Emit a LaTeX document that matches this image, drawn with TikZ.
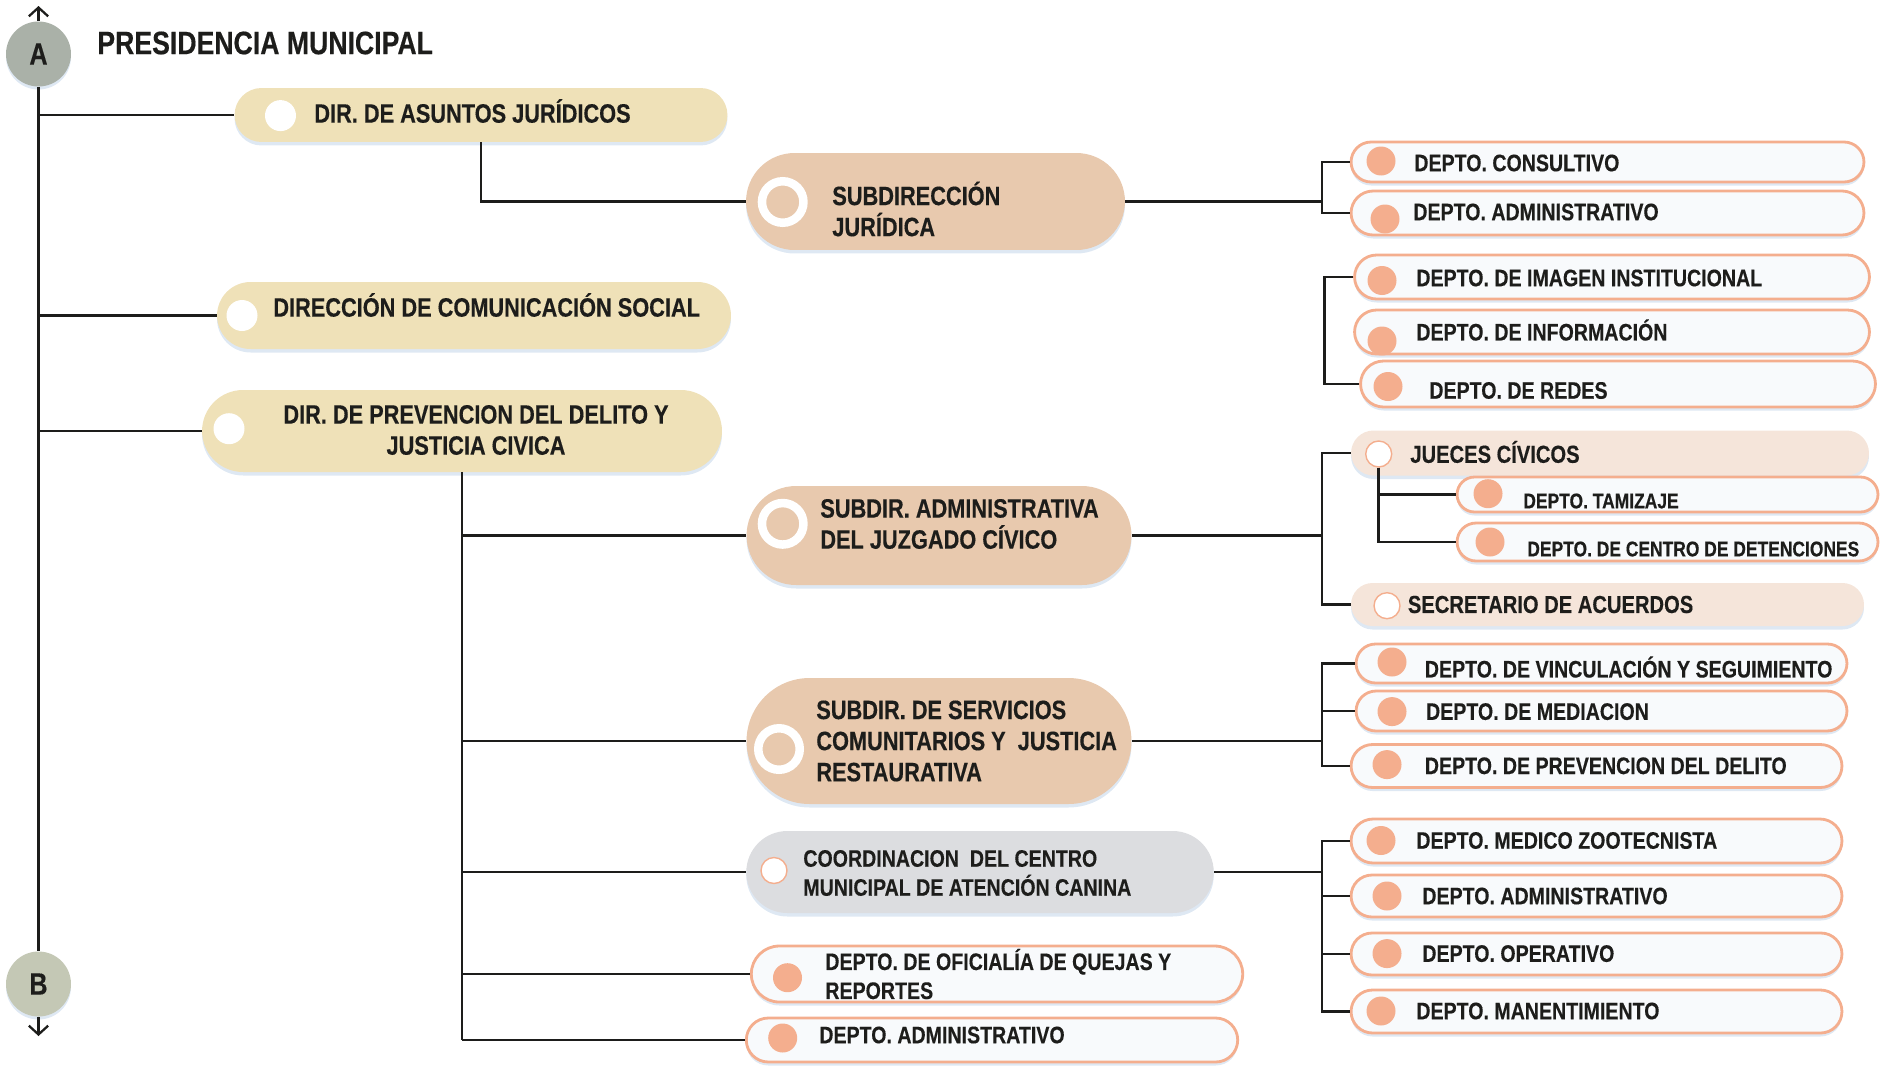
\documentclass[tikz,border=0pt]{standalone}
\usepackage{fontspec}
\newfontfamily\orgfont{Liberation Sans}[FakeStretch=0.82,BoldFeatures={FakeBold=0.35}]
\usetikzlibrary{positioning,arrows,arrows.meta,shapes.misc,shadows}
\definecolor{colortext}  {RGB}{29 ,29 ,27 }
\definecolor{colordir}   {RGB}{239,225,184}
\definecolor{colorsub}   {RGB}{232,201,174}
\definecolor{colordept}  {RGB}{248,250,252}
\definecolor{colorsalmon}{RGB}{244,174,142}
\definecolor{colorsoft}  {RGB}{245,229,218}
\definecolor{colorcanina}{RGB}{220,221,224}
\definecolor{colora}     {RGB}{170,177,168}
\definecolor{colorb}     {RGB}{196,200,181}
\definecolor{colorshadow}{RGB}{214,226,240}
\begin{document}
\begin{tikzpicture}[
    x=0.02cm, y=-0.02cm,
    >={Straight Barb[length=5pt,width=11pt,line width=1.3pt]},
    link/.style={draw=colortext,line width=1.5pt},
    txt/.style={text=colortext,anchor=west,align=left,inner sep=0pt,font={\orgfont\bfseries\fontsize{13.6}{16.5}\selectfont}},
    bigtxt/.style={txt,font={\orgfont\bfseries\fontsize{15.1}{17.7}\selectfont}},
    smalltxt/.style={txt,font={\orgfont\bfseries\fontsize{12.1}{14}\selectfont}},
    pill/.style={rounded rectangle,inner sep=0pt,drop shadow={shadow xshift=0pt,shadow yshift=-0.07cm,fill=colorshadow,opacity=0.8}},
    dirpill/.style={pill,fill=colordir},
    subpill/.style={pill,fill=colorsub},
    softpill/.style={pill,fill=colorsoft},
    deptpill/.style={pill,fill=colordept,draw=colorsalmon,line width=1.6pt},
    letter/.style={circle,minimum size=1.3cm,inner sep=0pt,text=colortext,font={\orgfont\bfseries\fontsize{17.5}{20}\selectfont},drop shadow={shadow xshift=0pt,shadow yshift=-0.06cm,fill=colorshadow,opacity=0.8}},
    dot/.style={circle,fill=colorsalmon,minimum size=0.58cm,inner sep=0pt},
    hole/.style={circle,fill=white,minimum size=0.62cm,inner sep=0pt},
    pin/.style={circle,fill=white,draw=colorsalmon,line width=0.8pt,minimum size=0.52cm,inner sep=0pt},
    ring/.style={circle,fill=colorsub,draw=white,line width=0.17cm,minimum size=0.83cm,inner sep=0pt},
]

    \useasboundingbox (0,0) rectangle (1888,1065);

    % Letters and title
    \node[letter,fill=colora] (A) at (38.5,54)  {A};
    \node[letter,fill=colorb] (B) at (38.5,984) {B};
    \coordinate (topend) at (38.5,6);
    \coordinate (botend) at (38.5,1036);
    \node[txt,font={\orgfont\bfseries\fontsize{18.5}{22}\selectfont}] (title) at (97,43) {PRESIDENCIA MUNICIPAL};

    % Directions
    \node[dirpill,minimum width=9.86cm,minimum height=1.08cm]  (asuntos) at (481,115)   {};
    \node[dirpill,minimum width=10.28cm,minimum height=1.34cm] (comsoc)  at (474,315.5) {};
    \node[dirpill,minimum width=10.4cm,minimum height=1.64cm]  (prev)    at (462,431)   {};
    \node[hole] (asuntosdot) at (280.5,115.6) {};
    \node[hole] (comsocdot)  at (242,315.5)   {};
    \node[hole] (prevdot)    at (229,428.7)   {};
    \node[bigtxt] (asuntostxt) at (314,111) {DIR. DE ASUNTOS JURÍDICOS};
    \node[bigtxt] (comsoctxt)  at (273,305) {DIRECCIÓN DE COMUNICACIÓN SOCIAL};
    \node[bigtxt,anchor=center,align=center] (prevtxt) at (476,430) {DIR. DE PREVENCION DEL DELITO Y\\JUSTICIA CIVICA};

    % Subdirections
    \node[subpill,minimum width=7.58cm,minimum height=1.94cm] (subjur)    at (935.5,201.5) {};
    \node[subpill,minimum width=7.7cm,minimum height=1.98cm]  (subadm)    at (939,535.5)   {};
    \node[subpill,minimum width=7.7cm,minimum height=2.52cm]  (servicios) at (939,741)     {};
    \node[pill,fill=colorcanina,minimum width=9.35cm,minimum height=1.64cm] (canina) at (980,872) {};
    \node[ring] (subjurdot)    at (782.7,202)   {};
    \node[ring] (subadmdot)    at (782.7,523.8) {};
    \node[ring] (serviciosdot) at (779,749)     {};
    \node[pin]  (caninadot)    at (774,870.5)   {};
    \node[bigtxt] (subjurtxt)    at (832,209)   {SUBDIRECCIÓN\\JURÍDICA};
    \node[bigtxt] (subadmtxt)    at (820,524) {SUBDIR. ADMINISTRATIVA\\DEL JUZGADO CÍVICO};
    \node[bigtxt] (servicipstxt) at (816,741)   {SUBDIR. DE SERVICIOS\\COMUNITARIOS Y\ \ JUSTICIA\\RESTAURATIVA};
    \node[txt,font={\orgfont\bfseries\fontsize{13.6}{16.5}\selectfont}] (caninatxt) at (803,873) {COORDINACION\ \ DEL CENTRO\\MUNICIPAL DE ATENCIÓN CANINA};

    % Departments under the prevention direction
    \node[deptpill,minimum width=9.83cm,minimum height=1.12cm] (quejas) at (997,974)  {};
    \node[deptpill,minimum width=9.83cm,minimum height=0.88cm] (adminD) at (992,1040) {};
    \node[dot] (quejasdot) at (787.5,977.7) {};
    \node[dot] (adminDdot) at (782.7,1038)  {};
    \node[txt] (quejastxt) at (825,974)  {DEPTO. DE OFICIALÍA DE QUEJAS Y\\REPORTES};
    \node[txt] (adminDtxt) at (819,1035) {DEPTO. ADMINISTRATIVO};

    % Departments, right column
    \node[deptpill,minimum width=10.26cm,minimum height=0.8cm]  (consultivo)  at (1607.5,162) {};
    \node[deptpill,minimum width=10.26cm,minimum height=0.88cm] (adminA)      at (1607.5,213) {};
    \node[deptpill,minimum width=10.3cm,minimum height=0.88cm]  (imagen)      at (1612,277)   {};
    \node[deptpill,minimum width=10.3cm,minimum height=0.88cm]  (informacion) at (1612,332)   {};
    \node[deptpill,minimum width=10.3cm,minimum height=0.92cm]  (redes)       at (1618,384)   {};
    \node[dot] (consultivodot)  at (1381,161)   {};
    \node[dot] (adminAdot)      at (1385,219)   {};
    \node[dot] (imagendot)      at (1382,280.5) {};
    \node[dot] (informaciondot) at (1382,341)   {};
    \node[dot] (redesdot)       at (1388,386.5) {};
    \node[txt] (consultivotxt)  at (1414,163)   {DEPTO. CONSULTIVO};
    \node[txt] (adminAtxt)      at (1413,212)   {DEPTO. ADMINISTRATIVO};
    \node[txt] (imagentxt)      at (1416,278)   {DEPTO. DE IMAGEN INSTITUCIONAL};
    \node[txt] (informaciontxt) at (1416,330)   {DEPTO. DE INFORMACIÓN};
    \node[txt] (redestxt)       at (1429,390.5) {DEPTO. DE REDES};

    % Civic judges
    \node[softpill,minimum width=10.36cm,minimum height=0.9cm]  (jueces)      at (1610,453)    {};
    \node[deptpill,minimum width=8.42cm,minimum height=0.7cm]   (tamizaje)    at (1667.5,494.5) {};
    \node[deptpill,minimum width=8.42cm,minimum height=0.76cm]  (detenciones) at (1667.5,542)  {};
    \node[softpill,minimum width=10.26cm,minimum height=0.86cm] (secretario)  at (1607.5,604.5) {};
    \node[pin] (juecesdot)      at (1378.7,454)  {};
    \node[dot] (tamizajedot)    at (1488,493.7)  {};
    \node[dot] (detencionesdot) at (1490,542)    {};
    \node[pin] (secretariodot)  at (1387,605.7)  {};
    \node[bigtxt,font={\orgfont\bfseries\fontsize{14}{17}\selectfont}] (juecestxt) at (1410,452) {JUECES CÍVICOS};
    \node[smalltxt] (tamizajetxt)    at (1523,501) {DEPTO. TAMIZAJE};
    \node[smalltxt] (detencionestxt) at (1527,549) {DEPTO. DE CENTRO DE DETENCIONES};
    \node[bigtxt,font={\orgfont\bfseries\fontsize{14}{17}\selectfont}] (secretariotxt) at (1407.5,604.5) {SECRETARIO DE ACUERDOS};

    % Community services
    \node[deptpill,minimum width=9.82cm,minimum height=0.78cm] (vinculacion) at (1601.5,663.5) {};
    \node[deptpill,minimum width=9.82cm,minimum height=0.8cm]  (mediacion)   at (1601.5,711)   {};
    \node[deptpill,minimum width=9.82cm,minimum height=0.86cm] (prevdel)     at (1596.5,766)   {};
    \node[dot] (vinculaciondot) at (1392,662)   {};
    \node[dot] (mediaciondot)   at (1392,711.6) {};
    \node[dot] (prevdeldot)     at (1387,764.6) {};
    \node[txt] (vinculaciontxt) at (1424.5,667) {DEPTO. DE VINCULACIÓN Y SEGUIMIENTO};
    \node[txt] (mediaciontxt)   at (1425.7,711.6) {DEPTO. DE MEDIACION};
    \node[txt] (prevdeltxt)     at (1424.5,765.8) {DEPTO. DE PREVENCION DEL DELITO};

    % Canine center
    \node[deptpill,minimum width=9.82cm,minimum height=0.88cm] (zootec)    at (1596.5,841)    {};
    \node[deptpill,minimum width=9.82cm,minimum height=0.84cm] (adminC)    at (1596.5,896)    {};
    \node[deptpill,minimum width=9.82cm,minimum height=0.84cm] (operativo) at (1596.5,954)    {};
    \node[deptpill,minimum width=9.82cm,minimum height=0.86cm] (mante)     at (1596.5,1011.5) {};
    \node[dot] (zootecdot)    at (1381,840.5) {};
    \node[dot] (adminCdot)    at (1387,896)   {};
    \node[dot] (operativodot) at (1387,953.6) {};
    \node[dot] (mantedot)     at (1381,1011)  {};
    \node[txt] (zootectxt)    at (1416,840.5) {DEPTO. MEDICO ZOOTECNISTA};
    \node[txt] (adminCtxt)    at (1422,896)   {DEPTO. ADMINISTRATIVO};
    \node[txt] (operativotxt) at (1422,953.6) {DEPTO. OPERATIVO};
    \node[txt] (mantetxt)     at (1416,1011)  {DEPTO. MANENTIMIENTO};

    % Main line
    \draw[link,->] (A) -- (topend);
    \draw[link] (A) -- (B);
    \draw[link,->] (B) -- (botend);
    \draw[link] (A |- asuntos.west) -- (asuntos.west);
    \draw[link] (A |- comsoc.west) -- (comsoc.west);
    \draw[link] (A |- prev.west) -- (prev.west);

    % Legal branch
    \coordinate (bus1) at (1322,201.5);
    \draw[link] (asuntos.south) |- (subjur.west);
    \draw[link] (subjur.east) -- (bus1);
    \draw[link] (consultivo.west) -| (bus1) |- (adminA.west);

    % Communication bracket
    \coordinate (bus2) at (1324.5,330);
    \draw[link] (imagen.west) -| (bus2) |- (redes.west);

    % Prevention branch
    \draw[link] (prev.south) -- (prev.south |- adminD.west);
    \draw[link] (prev.south |- subadm.west) -- (subadm.west);
    \draw[link] (prev.south |- servicios.west) -- (servicios.west);
    \draw[link] (prev.south |- canina.west) -- (canina.west);
    \draw[link] (prev.south |- quejas.west) -- (quejas.west);
    \draw[link] (prev.south |- adminD.west) -- (adminD.west);

    % Civic court
    \coordinate (bus3) at (1322,535.5);
    \draw[link] (subadm.east) -- (bus3);
    \draw[link] (jueces.west) -| (bus3) |- (secretario.west);
    \draw[link] (juecesdot.south) |- (tamizaje.west);
    \draw[link] (juecesdot.south) |- (detenciones.west);

    % Community services
    \coordinate (bus4) at (1322,741);
    \draw[link] (servicios.east) -- (bus4);
    \draw[link] (vinculacion.west) -| (bus4) |- (prevdel.west);
    \draw[link] (bus4 |- mediacion.west) -- (mediacion.west);

    % Canine center
    \coordinate (bus5) at (1322,872);
    \draw[link] (canina.east) -- (bus5);
    \draw[link] (zootec.west) -| (bus5) |- (mante.west);
    \draw[link] (bus5 |- adminC.west) -- (adminC.west);
    \draw[link] (bus5 |- operativo.west) -- (operativo.west);

\end{tikzpicture}
\end{document}
